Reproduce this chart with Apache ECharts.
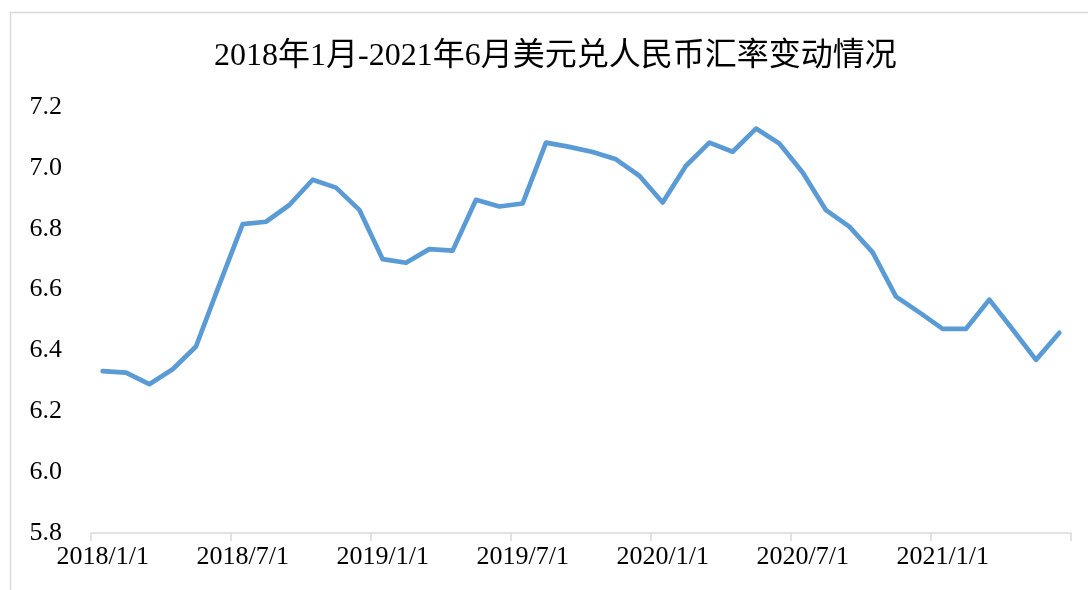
<!DOCTYPE html>
<html>
<head>
<meta charset="utf-8">
<script src="https://cdn.jsdelivr.net/npm/echarts@6/dist/echarts.min.js"></script>
<style>
html,body{margin:0;padding:0;background:#fff;}
#chart{width:1088px;height:590px;}
</style>
</head>
<body>
<div id="chart"></div>
<script>
const titleText = '2018年1月-2021年6月美元兑人民币汇率变动情况';
const categories = [
  '2018/1/1','2018/2/1','2018/3/1','2018/4/1','2018/5/1','2018/6/1',
  '2018/7/1','2018/8/1','2018/9/1','2018/10/1','2018/11/1','2018/12/1',
  '2019/1/1','2019/2/1','2019/3/1','2019/4/1','2019/5/1','2019/6/1',
  '2019/7/1','2019/8/1','2019/9/1','2019/10/1','2019/11/1','2019/12/1',
  '2020/1/1','2020/2/1','2020/3/1','2020/4/1','2020/5/1','2020/6/1',
  '2020/7/1','2020/8/1','2020/9/1','2020/10/1','2020/11/1','2020/12/1',
  '2021/1/1','2021/2/1','2021/3/1','2021/4/1','2021/5/1','2021/6/1'
];
const rates = [
  6.332, 6.327, 6.289, 6.338, 6.413, 6.616,
  6.815, 6.823, 6.878, 6.961, 6.935, 6.862,
  6.700, 6.688, 6.733, 6.728, 6.895, 6.873,
  6.883, 7.083, 7.069, 7.052, 7.028, 6.974,
  6.886, 7.007, 7.083, 7.053, 7.129, 7.080,
  6.985, 6.861, 6.807, 6.722, 6.577, 6.525,
  6.471, 6.471, 6.567, 6.469, 6.369, 6.458
];
const yMin = 5.8, yMax = 7.2, yStep = 0.2;

const serif = '"Liberation Serif", "Times New Roman", "Noto Sans CJK SC", serif';
const chart = echarts.init(document.getElementById('chart'), null, {renderer: 'canvas'});
chart.setOption({
  animation: false,
  backgroundColor: '#ffffff',
  graphic: [{
    type: 'rect',
    shape: {x: 10.5, y: 12.5, width: 1200, height: 700},
    style: {fill: 'none', stroke: '#D9D9D9', lineWidth: 1.5},
    silent: true, z: -1
  }],
  title: {
    text: titleText,
    left: 209,
    top: 36,
    textStyle: {fontFamily: serif, fontSize: 32, fontWeight: 'normal', color: '#000'}
  },
  grid: {left: 91, right: 17, top: 107, bottom: 57, containLabel: false},
  xAxis: {
    type: 'category',
    data: categories,
    boundaryGap: true,
    axisLine: {show: true, lineStyle: {color: '#D9D9D9', width: 1.5}},
    axisTick: {show: true, interval: 5, length: 8, lineStyle: {color: '#D9D9D9', width: 1.5}},
    axisLabel: {
      interval: 5, margin: 11, color: '#000',
      fontFamily: serif, fontSize: 26
    },
    splitLine: {show: false}
  },
  yAxis: {
    type: 'value',
    min: yMin, max: yMax, interval: yStep,
    axisLine: {show: false},
    axisTick: {show: false},
    splitLine: {show: false},
    axisLabel: {
      margin: 29, color: '#000', fontFamily: serif, fontSize: 26,
      formatter: v => v.toFixed(1)
    }
  },
  series: [{
    type: 'line',
    data: rates,
    showSymbol: false,
    symbol: 'none',
    lineStyle: {color: '#5B9BD5', width: 4.7, join: 'round', cap: 'round'},
    itemStyle: {color: '#5B9BD5'}
  }]
});
</script>
</body>
</html>
